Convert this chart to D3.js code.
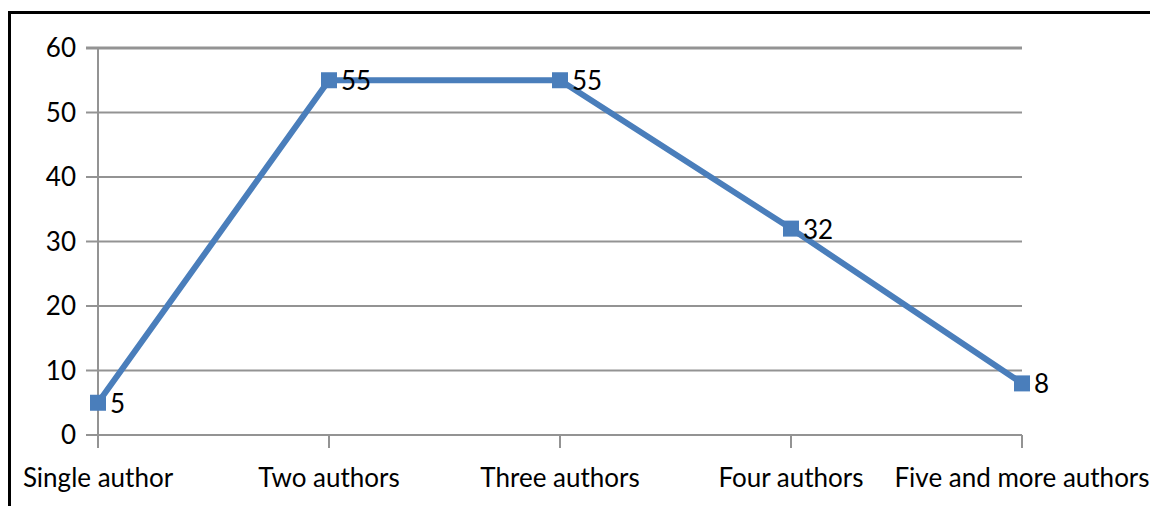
<!DOCTYPE html>
<html>
<head>
<meta charset="utf-8">
<script src="https://cdn.jsdelivr.net/npm/d3@7"></script>
<style>
body{margin:0;background:#fff}
text{font-family:Lato,"Open Sans",sans-serif;fill:#000}
</style>
</head>
<body>
<svg></svg>
<script>
var categories=["Single author","Two authors","Three authors","Four authors","Five and more authors"]
var counts=[5,55,55,32,8]
var yTicks=[0,10,20,30,40,50,60]

var screen={width:1150,height:506}
var svg=d3.select("svg")
    .attr("width",screen.width)
    .attr("height",screen.height)

// outer frame (runs past right/bottom edge like the picture)
svg.append("rect")
    .attr("x",9.5).attr("y",12.5)
    .attr("width",1160).attr("height",520)
    .attr("fill","none").attr("stroke","#000").attr("stroke-width",3)

var xScale=d3.scalePoint()
    .domain(categories)
    .range([98,1022])

var yScale=d3.scaleLinear()
    .domain([0,60])
    .range([435,48])

// gridlines
svg.append("g")
    .selectAll("line")
    .data(yTicks)
    .enter()
    .append("line")
    .attr("x1",86).attr("x2",1022)
    .attr("y1",function(d){return yScale(d)})
    .attr("y2",function(d){return yScale(d)})
    .attr("stroke","#939393")
    .attr("stroke-width",function(d){return d==60?3:2})

// y axis line
svg.append("line")
    .attr("x1",98).attr("x2",98)
    .attr("y1",yScale(60)).attr("y2",448)
    .attr("stroke","#939393").attr("stroke-width",2)

// x category ticks
svg.append("g")
    .selectAll("line")
    .data(categories)
    .enter()
    .append("line")
    .attr("x1",function(d){return xScale(d)})
    .attr("x2",function(d){return xScale(d)})
    .attr("y1",yScale(0)).attr("y2",448)
    .attr("stroke","#939393").attr("stroke-width",2)

// y labels
svg.append("g")
    .selectAll("text")
    .data(yTicks)
    .enter()
    .append("text")
    .attr("x",76)
    .attr("y",function(d){return yScale(d)+9})
    .attr("text-anchor","end")
    .style("font-size","26px")
    .text(function(d){return d})

// x labels
svg.append("g")
    .selectAll("text")
    .data(categories)
    .enter()
    .append("text")
    .attr("x",function(d,i){return i==categories.length-1?1022:xScale(d)})
    .attr("y",487)
    .attr("text-anchor","middle")
    .style("font-size","26px")
    .text(function(d){return d})

var pts=categories.map(function(c,i){return {c:c,v:counts[i]}})

var line=d3.line()
    .x(function(p){return xScale(p.c)})
    .y(function(p){return yScale(p.v)})

svg.append("path")
    .datum(pts)
    .attr("d",line)
    .attr("fill","none")
    .attr("stroke","#4a7ebb")
    .attr("stroke-width",6)

svg.append("g")
    .selectAll("rect")
    .data(pts)
    .enter()
    .append("rect")
    .attr("x",function(p){return xScale(p.c)-8})
    .attr("y",function(p){return yScale(p.v)-8})
    .attr("width",16).attr("height",16)
    .attr("fill","#4a7ebb")

svg.append("g")
    .selectAll("text")
    .data(pts)
    .enter()
    .append("text")
    .attr("x",function(p){return xScale(p.c)+12})
    .attr("y",function(p){return yScale(p.v)+10})
    .style("font-size","26px")
    .text(function(p){return p.v})
</script>
</body>
</html>
